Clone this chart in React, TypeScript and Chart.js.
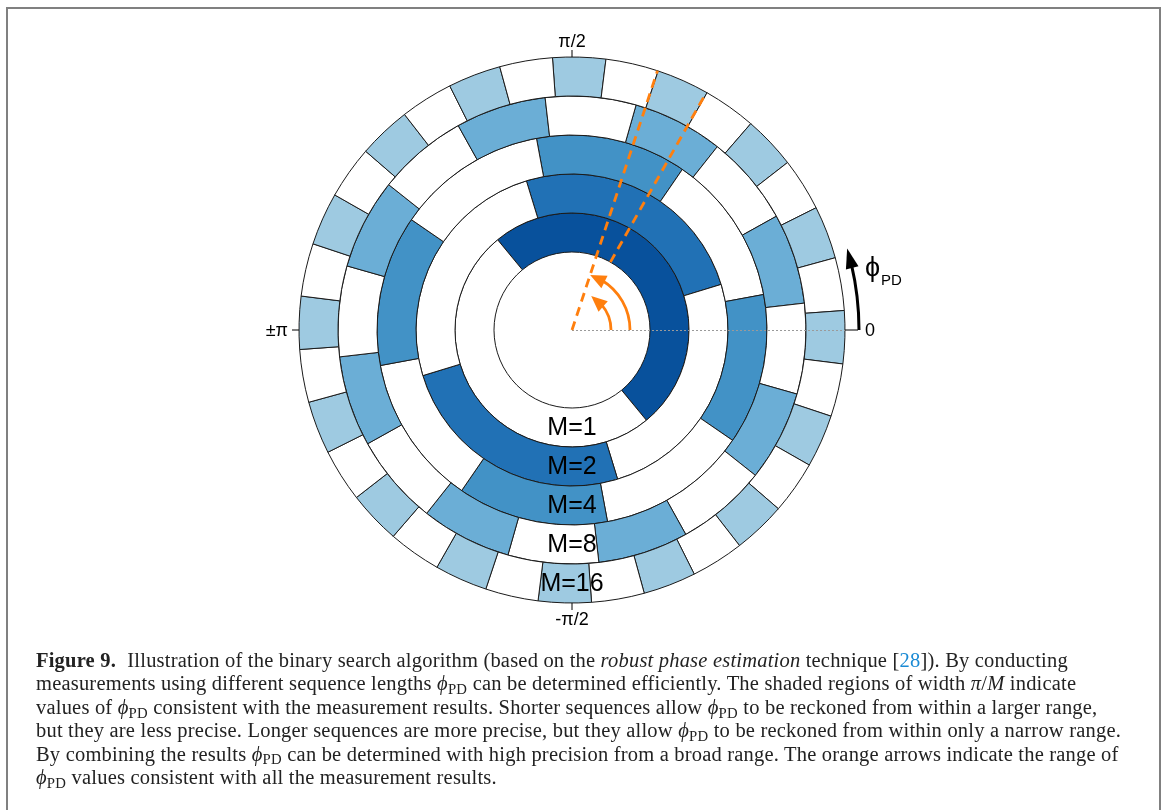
import React, { useEffect, useRef } from "react";
import { Chart, registerables } from "chart.js";

Chart.register(...registerables);

// Rings from inner to outer
const ringLabels = ["M=1", "M=2", "M=4", "M=8", "M=16"];
const ringM = [1, 2, 4, 8, 16];
// math angle (deg, counter-clockwise from 0) of the CCW edge of one shaded region in each ring
const shadedEdgeDeg = [129.5, 107, 100.5, 74.1, 94.1];
const ringColors = ["#08519c", "#2171b5", "#4292c6", "#6baed6", "#9ecae1"];
// phi_PD range consistent with all measurements (deg)
const consistentRangeDeg = [60.5, 71.75];
const phaseTickLabels = ["0", "π/2", "±π", "-π/2"];
const phaseTickDeg = [0, 90, 180, -90];

const OUTER_R = 273;
const INNER_R = 78;

const rad = (d: number) => (d * Math.PI) / 180;

const overlayPlugin = {
  id: "overlay",
  afterDraw(chart: any) {
    const ctx: CanvasRenderingContext2D = chart.ctx;
    const outerArc = chart.getDatasetMeta(0).data[0];
    const innerArc = chart.getDatasetMeta(ringM.length - 1).data[0];
    const cx = outerArc.x;
    const cy = outerArc.y;
    const R = outerArc.outerRadius;
    const r0 = innerArc.innerRadius;
    const pt = (r: number, d: number) => [cx + r * Math.cos(rad(d)), cy - r * Math.sin(rad(d))];

    ctx.save();
    // dotted zero line
    ctx.strokeStyle = "#9a9a9a";
    ctx.lineWidth = 1;
    ctx.setLineDash([2, 2]);
    ctx.beginPath();
    ctx.moveTo(cx, cy + 0.5);
    ctx.lineTo(cx + R, cy + 0.5);
    ctx.stroke();
    ctx.setLineDash([]);

    // ticks
    ctx.strokeStyle = "#000";
    ctx.lineWidth = 1;
    phaseTickDeg.forEach((d) => {
      const len = d === 0 ? 13 : 7;
      const a = pt(R, d);
      const b = pt(R + len, d);
      ctx.beginPath();
      ctx.moveTo(a[0], a[1]);
      ctx.lineTo(b[0], b[1]);
      ctx.stroke();
    });

    const arrowArc = (r: number, from: number, to: number, color: string, lw: number, headLen: number, headW: number) => {
      const headAng = (headLen / r) * (180 / Math.PI);
      const endLine = to - headAng * 0.8;
      ctx.strokeStyle = color;
      ctx.fillStyle = color;
      ctx.lineWidth = lw;
      ctx.beginPath();
      ctx.arc(cx, cy, r, -rad(from), -rad(endLine), true);
      ctx.stroke();
      const tip = pt(r, to);
      const baseAng = to - headAng;
      const base = pt(r, baseAng);
      let dx = tip[0] - base[0];
      let dy = tip[1] - base[1];
      const L = Math.hypot(dx, dy);
      dx /= L;
      dy /= L;
      const nx = -dy;
      const ny = dx;
      ctx.beginPath();
      ctx.moveTo(tip[0], tip[1]);
      ctx.lineTo(base[0] + nx * headW / 2, base[1] + ny * headW / 2);
      ctx.lineTo(base[0] - nx * headW / 2, base[1] - ny * headW / 2);
      ctx.closePath();
      ctx.fill();
    };

    // black phi arrow
    arrowArc(R + 14, 0, 16.5, "#000", 3, 20, 13);

    // orange dashed lines
    const orange = "#ff7f0e";
    ctx.strokeStyle = orange;
    ctx.lineWidth = 2.8;
    ctx.setLineDash([9, 6]);
    const [lo, hi] = consistentRangeDeg;
    let a = pt(0, hi);
    let b = pt(R, hi);
    ctx.beginPath();
    ctx.moveTo(a[0], a[1]);
    ctx.lineTo(b[0], b[1]);
    ctx.stroke();
    a = pt(r0, lo);
    b = pt(R, lo);
    ctx.beginPath();
    ctx.moveTo(a[0], a[1]);
    ctx.lineTo(b[0], b[1]);
    ctx.stroke();
    ctx.setLineDash([]);

    // orange arrows
    arrowArc(58, 0, hi, orange, 2.8, 16, 14);
    arrowArc(39, 0, lo, orange, 2.8, 16, 14);

    // tick labels
    ctx.fillStyle = "#000";
    ctx.font = '18px "Liberation Sans", Arial, sans-serif';
    ctx.textBaseline = "middle";
    ctx.textAlign = "center";
    ctx.fillText(phaseTickLabels[1], cx, cy - R - 15);
    ctx.fillText(phaseTickLabels[3], cx, cy + R + 17);
    ctx.textAlign = "right";
    ctx.fillText(phaseTickLabels[2], cx - R - 11, cy + 1);
    ctx.textAlign = "left";
    ctx.fillText(phaseTickLabels[0], cx + R + 20, cy + 1);

    // phi_PD label
    ctx.font = '27px "Liberation Sans", Arial, sans-serif';
    ctx.fillText("ϕ", cx + R + 20, cy - 61);
    ctx.font = '15px "Liberation Sans", Arial, sans-serif';
    ctx.textBaseline = "alphabetic";
    ctx.fillText("PD", cx + R + 36, cy - 45);

    // ring labels
    ctx.font = '25px "Liberation Sans", Arial, sans-serif';
    ctx.textAlign = "center";
    ctx.textBaseline = "middle";
    ringLabels.forEach((lab, i) => {
      const meta = chart.getDatasetMeta(ringM.length - 1 - i);
      const arc = meta.data[0];
      const rm = (arc.innerRadius + arc.outerRadius) / 2;
      ctx.fillText(lab, cx, cy + rm + 1);
    });
    ctx.restore();
  },
};

function Sub() {
  return (
    <span style={{ fontSize: "0.72em", position: "relative", top: "0.25em", lineHeight: 0, letterSpacing: "0.02em" }}>PD</span>
  );
}

function Phi() {
  return (
    <span>
      <i>ϕ</i>
      <Sub />
    </span>
  );
}

export default function App() {
  const ref = useRef<HTMLCanvasElement>(null);
  useEffect(() => {
    const canvas = ref.current;
    if (!canvas) return;
    const order = ringM.map((_, i) => i).reverse();
    const datasets = order.map((i) => {
      const M = ringM[i];
      const n = 2 * M;
      const data = Array.from({ length: n }, () => 180 / M);
      const bg = Array.from({ length: n }, (_, k) => (k % 2 === 0 ? ringColors[i] : "#ffffff"));
      return {
        label: ringLabels[i],
        data,
        backgroundColor: bg,
        borderColor: "#1a1a1a",
        borderWidth: 1,
        rotation: 90 - shadedEdgeDeg[i],
        circumference: 360,
      };
    });
    const chart = new Chart(canvas, {
      type: "doughnut",
      data: { labels: Array.from({ length: 32 }, (_, k) => String(k)), datasets },
      options: {
        animation: false,
        responsive: false,
        events: [],
        radius: OUTER_R,
        cutout: `${(INNER_R / OUTER_R) * 100}%`,
        layout: { padding: 0 },
        plugins: { legend: { display: false }, tooltip: { enabled: false } },
      } as any,
      plugins: [overlayPlugin],
    });
    return () => chart.destroy();
  }, []);

  return (
    <div style={{ position: "absolute", left: 0, top: 0, width: 1165, height: 810, background: "#fff", overflow: "hidden" }}>
      <div
        style={{
          position: "absolute",
          left: 6,
          top: 7,
          width: 1151,
          height: 830,
          border: "2px solid #808080",
        }}
      />
      <canvas ref={ref} width={1144} height={660} style={{ position: "absolute", left: 0, top: 0, width: 1144, height: 660 }} />
      <div
        style={{
          position: "absolute",
          left: 36,
          top: 649,
          fontFamily: '"Liberation Serif", "Times New Roman", serif',
          fontSize: 20.5,
          letterSpacing: "0.2px",
          lineHeight: "23.4px",
          color: "#222",
          whiteSpace: "nowrap",
        }}
      >
        <div>
          <b style={{ marginRight: 6 }}>Figure 9.</b> Illustration of the binary search algorithm (based on the <i>robust phase estimation</i> technique [
          <span style={{ color: "#1a8ad4" }}>28</span>]). By conducting
        </div>
        <div>
          measurements using different sequence lengths <Phi /> can be determined efficiently. The shaded regions of width <i>π</i>/<i>M</i> indicate
        </div>
        <div>
          values of <Phi /> consistent with the measurement results. Shorter sequences allow <Phi /> to be reckoned from within a larger range,
        </div>
        <div>
          but they are less precise. Longer sequences are more precise, but they allow <Phi /> to be reckoned from within only a narrow range.
        </div>
        <div>
          By combining the results <Phi /> can be determined with high precision from a broad range. The orange arrows indicate the range of
        </div>
        <div>
          <Phi /> values consistent with all the measurement results.
        </div>
      </div>
    </div>
  );
}
